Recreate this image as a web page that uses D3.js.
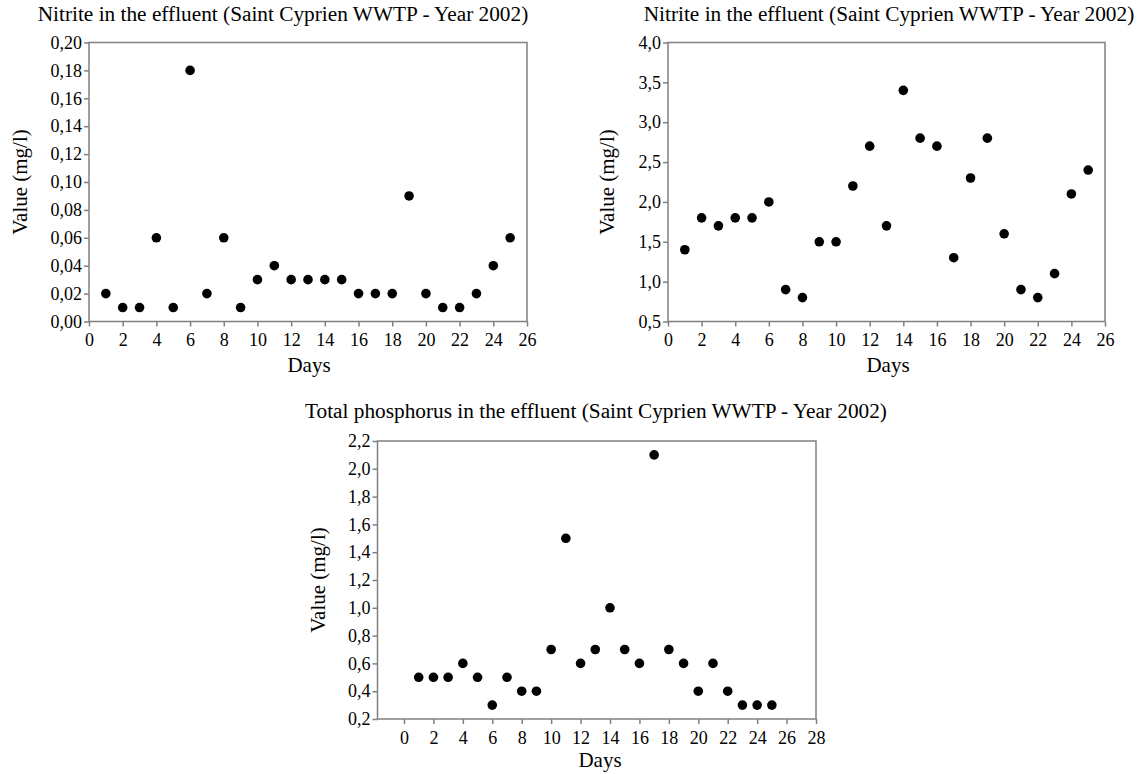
<!DOCTYPE html>
<html>
<head>
<meta charset="utf-8">
<title>Saint Cyprien WWTP - Year 2002</title>
</head>
<body style="margin:0;background:#fff">
<div id="chart"></div>
<script src="https://d3js.org/d3.v7.min.js"></script>
<script>
// Days 1..25
const days = d3.range(1, 26);

// Nitrite (mg/l), first panel
const nitriteA = [0.02, 0.01, 0.01, 0.06, 0.01, 0.18, 0.02, 0.06, 0.01, 0.03, 0.04, 0.03, 0.03,
  0.03, 0.03, 0.02, 0.02, 0.02, 0.09, 0.02, 0.01, 0.01, 0.02, 0.04, 0.06];

// Nitrite (mg/l), second panel
const nitriteB = [1.4, 1.8, 1.7, 1.8, 1.8, 2.0, 0.9, 0.8, 1.5, 1.5, 2.2, 2.7, 1.7,
  3.4, 2.8, 2.7, 1.3, 2.3, 2.8, 1.6, 0.9, 0.8, 1.1, 2.1, 2.4];

// Total phosphorus (mg/l)
const phosphorus = [0.5, 0.5, 0.5, 0.6, 0.5, 0.3, 0.5, 0.4, 0.4, 0.7, 1.5, 0.6, 0.7,
  1.0, 0.7, 0.6, 2.1, 0.7, 0.6, 0.4, 0.6, 0.4, 0.3, 0.3, 0.3];

const titleNitrite = "Nitrite in the effluent (Saint Cyprien WWTP - Year 2002)";
const titlePhos = "Total phosphorus in the effluent (Saint Cyprien WWTP - Year 2002)";

const xTicksA = d3.range(0, 27, 2);
const xTicksC = d3.range(0, 29, 2);
const yTicksA = d3.range(0, 0.201, 0.02);
const yTicksB = d3.range(0.5, 4.01, 0.5);
const yTicksC = d3.range(0.2, 2.21, 0.2);

const FONT = "Liberation Serif, Times New Roman, serif";
const GRAY = "#808080";

const svg = d3.select("#chart").append("svg")
  .attr("width", 1144)
  .attr("height", 774)
  .style("display", "block")
  .style("font-family", FONT);

const comma = (digits) => d => d3.format("." + digits + "f")(d).replace(".", ",");

const panels = [
  { left: 89, right: 527, top: 42.5, bottom: 321.5, xDomain: [0, 26], xTicks: xTicksA,
    yDomain: [0, 0.2], yTicks: yTicksA, fmt: comma(2), values: nitriteA,
    title: titleNitrite, titleX: 283, titleY: 21, yLabelX: 27, daysX: 309, daysY: 372 },
  { left: 668, right: 1105, top: 42.5, bottom: 321.5, xDomain: [0, 26], xTicks: xTicksA,
    yDomain: [0.5, 4.0], yTicks: yTicksB, fmt: comma(1), values: nitriteB,
    title: titleNitrite, titleX: 889, titleY: 21, yLabelX: 614, daysX: 888, daysY: 372 },
  { left: 377.5, right: 816, top: 441, bottom: 719, xDomain: [-1.8, 28], xTicks: xTicksC,
    yDomain: [0.2, 2.2], yTicks: yTicksC, fmt: comma(1), values: phosphorus,
    title: titlePhos, titleX: 596, titleY: 418, yLabelX: 325, daysX: 600, daysY: 767 }
];

function styleAxis(a) {
  a.select(".domain").remove();
  a.attr("font-family", null).attr("font-size", null);
  a.selectAll("line").attr("stroke", GRAY).attr("stroke-width", 1.5);
  a.selectAll("text")
    .attr("fill", "#000")
    .style("font-family", FONT)
    .style("font-size", "18px");
}

panels.forEach(p => {
  const x = d3.scaleLinear().domain(p.xDomain).range([p.left, p.right]);
  const y = d3.scaleLinear().domain(p.yDomain).range([p.bottom, p.top]);
  const g = svg.append("g");

  g.append("rect")
    .attr("x", p.left)
    .attr("y", p.top)
    .attr("width", p.right - p.left)
    .attr("height", p.bottom - p.top)
    .attr("fill", "none")
    .attr("stroke", GRAY)
    .attr("stroke-width", 1.5);

  g.append("g")
    .attr("transform", `translate(0,${p.bottom})`)
    .call(d3.axisBottom(x).tickValues(p.xTicks).tickSize(5).tickSizeOuter(0).tickPadding(7))
    .call(styleAxis);

  g.append("g")
    .attr("transform", `translate(${p.left},0)`)
    .call(d3.axisLeft(y).tickValues(p.yTicks).tickFormat(p.fmt).tickSize(5).tickSizeOuter(0).tickPadding(2))
    .call(styleAxis);

  g.selectAll("circle.dot")
    .data(days)
    .join("circle")
    .attr("class", "dot")
    .attr("cx", d => x(d))
    .attr("cy", (d, i) => y(p.values[i]))
    .attr("r", 4.8)
    .attr("fill", "#000");

  g.append("text")
    .attr("x", p.titleX)
    .attr("y", p.titleY)
    .attr("text-anchor", "middle")
    .attr("font-size", 21.3)
    .text(p.title);

  g.append("text")
    .attr("x", p.daysX)
    .attr("y", p.daysY)
    .attr("text-anchor", "middle")
    .attr("font-size", 21)
    .text("Days");

  const cy = (p.top + p.bottom) / 2;
  g.append("text")
    .attr("transform", `translate(${p.yLabelX},${cy}) rotate(-90)`)
    .attr("text-anchor", "middle")
    .attr("font-size", 21)
    .text("Value (mg/l)");
});
</script>
</body>
</html>
